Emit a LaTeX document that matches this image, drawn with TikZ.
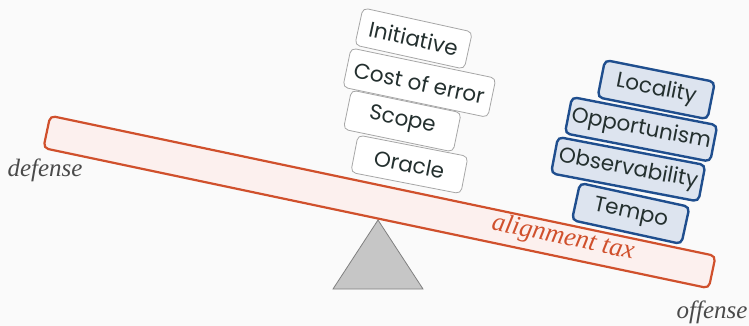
\documentclass[tikz,border=0pt]{standalone}
\usepackage{fontspec}
\newfontfamily\factorfont{Poppins}
\newfontfamily\sidefont{Liberation Serif}
\usetikzlibrary{positioning}

\definecolor{bg}{HTML}{FAFAFA}
\definecolor{taxred}{HTML}{D0502C}
\definecolor{plankfill}{HTML}{FCF0EE}
\definecolor{ink}{HTML}{24302F}
\definecolor{offblue}{HTML}{1F4E8E}
\definecolor{offfill}{HTML}{DDE4EF}
\definecolor{pivotgray}{HTML}{C6C6C6}
\definecolor{sidegray}{HTML}{4A4A4A}

\begin{document}
\begin{tikzpicture}[x=1pt,y=1pt,
  factor/.style={draw=gray!70,fill=white,rounded corners=5pt,line width=0.8pt,
    minimum width=112pt,minimum height=38pt,inner xsep=3pt,
    font=\factorfont\fontsize{21.5}{24}\selectfont,text=ink},
  offbox/.style={factor,draw=offblue,fill=offfill,line width=2.4pt},
  side/.style={font=\sidefont\itshape\fontsize{25}{28}\selectfont,text=sidegray}]

\fill[bg] (0,0) rectangle (749,-326);
\useasboundingbox (0,0) rectangle (749,-326);

\coordinate (apex) at (378,-220);
\draw[fill=pivotgray,draw=gray,line width=0.8pt] (apex) -- (333,-289) -- (423,-289) -- cycle;

\node[draw=taxred,fill=plankfill,line width=2.2pt,rounded corners=5pt,
  minimum width=680pt,minimum height=33pt,rotate=-11.9] (plank) at (379.5,-202) {};

\node[side] (defense) at (45,-170) {defense};
\node[side] (offense) at (712,-312) {offense};
\node[side,text=taxred,font=\sidefont\itshape\fontsize{26.5}{30}\selectfont,rotate=-11.9] (tax) at (563,-238) {alignment tax};

\node[factor,rotate=-12.4] (initiative) at (413.6,-38.5) {Initiative};
\node[factor,minimum width=148pt,minimum height=40pt,rotate=-11.8] (cost) at (419.4,-82.7) {Cost of error};
\node[factor,minimum height=40pt,rotate=-11.7] (scope) at (402.3,-121) {Scope};
\node[factor,rotate=-11] (oracle) at (409.4,-164.4) {Oracle};

\node[offbox,rotate=-11.3] (locality) at (656.2,-89.6) {Locality};
\node[offbox,minimum width=148pt,minimum height=37pt,rotate=-11] (opportunism) at (641.1,-129.3) {Opportunism};
\node[offbox,minimum width=150pt,minimum height=37pt,rotate=-10.8] (observability) at (628.2,-169.2) {Observability};
\node[offbox,rotate=-12.3] (tempo) at (630.7,-213.5) {Tempo};

\end{tikzpicture}
\end{document}
